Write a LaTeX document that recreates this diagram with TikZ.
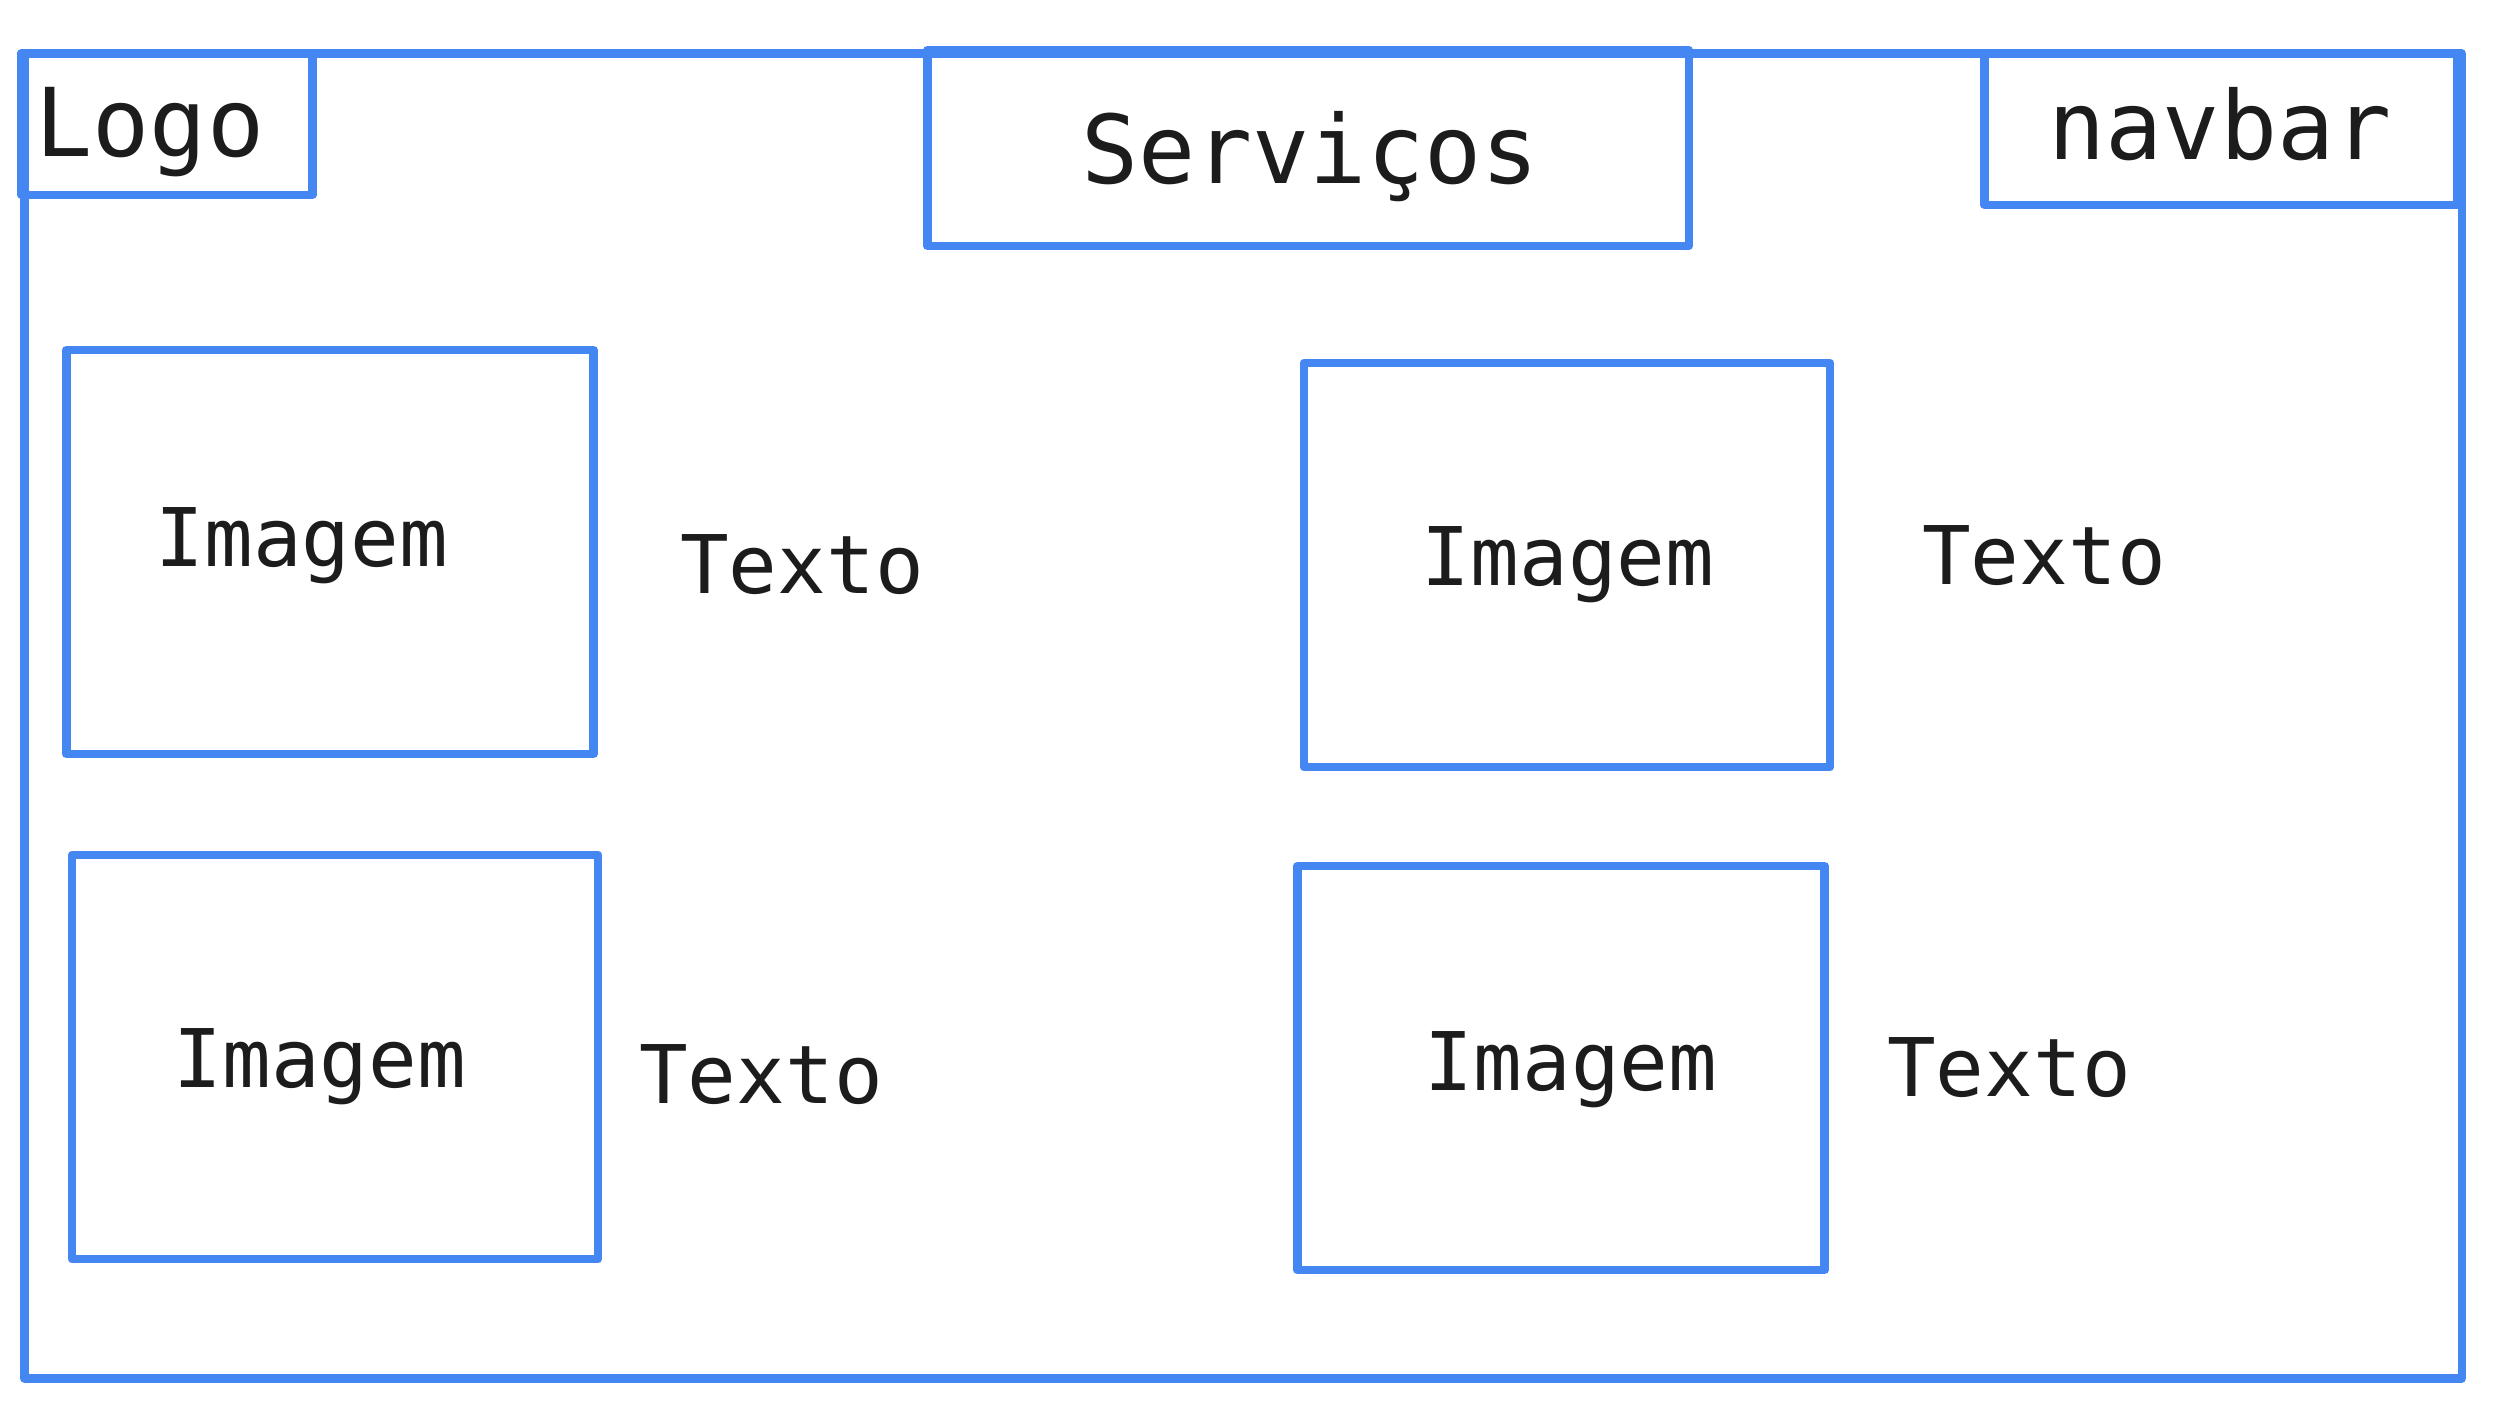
\documentclass[tikz,border=0pt]{standalone}
\usepackage{fontspec}
\usepackage{xcolor}
\usetikzlibrary{positioning}
\newfontfamily\wiremono{DejaVu Sans Mono}
\definecolor{wireblue}{RGB}{69,135,242}
\definecolor{wireink}{RGB}{28,28,28}

\begin{document}
\begin{tikzpicture}[
  x=0.01cm, y=-0.01cm,
  box/.style={rectangle, draw=wireblue, line width=2.4pt, line join=round, inner sep=0pt},
  head/.style={anchor=base, text=wireink, font=\wiremono\fontsize{27}{32}\selectfont, inner sep=0pt},
  body/.style={anchor=base, text=wireink, font=\wiremono\fontsize{23}{28}\selectfont, inner sep=0pt}
]
\useasboundingbox (0,0) rectangle (2506,1425);
% page frame
\node[box, minimum width=24.36cm, minimum height=13.24cm] (page) at (1243,716) {};
% header
\node[box, minimum width=2.91cm, minimum height=1.42cm] (logobox) at (167,124) {};
\node[box, minimum width=7.61cm, minimum height=1.96cm] (servbox) at (1308,148) {};
\node[box, minimum width=4.73cm, minimum height=1.52cm] (navbox) at (2221,129) {};
\node[head] (logo) at (150,157) {Logo};
\node[head] (serv) at (1310,184) {Serviços};
\node[head] (nav) at (2220,160) {navbar};
% cards
\node[box, minimum width=5.27cm, minimum height=4.04cm] (img1) at (330,552) {};
\node[box, minimum width=5.26cm, minimum height=4.04cm] (img2) at (335,1057) {};
\node[box, minimum width=5.26cm, minimum height=4.04cm] (img3) at (1567,565) {};
\node[box, minimum width=5.27cm, minimum height=4.04cm] (img4) at (1561,1068) {};
\node[body] (imgtxt1) at (302,567) {Imagem};
\node[body] (imgtxt2) at (320,1087) {Imagem};
\node[body] (imgtxt3) at (1568,586) {Imagem};
\node[body] (imgtxt4) at (1571,1090) {Imagem};
\node[body] (txt1) at (802,594) {Texto};
\node[body] (txt2) at (761,1103) {Texto};
\node[body] (txt3) at (2044,585) {Texto};
\node[body] (txt4) at (2009,1096) {Texto};
\end{tikzpicture}
\end{document}
